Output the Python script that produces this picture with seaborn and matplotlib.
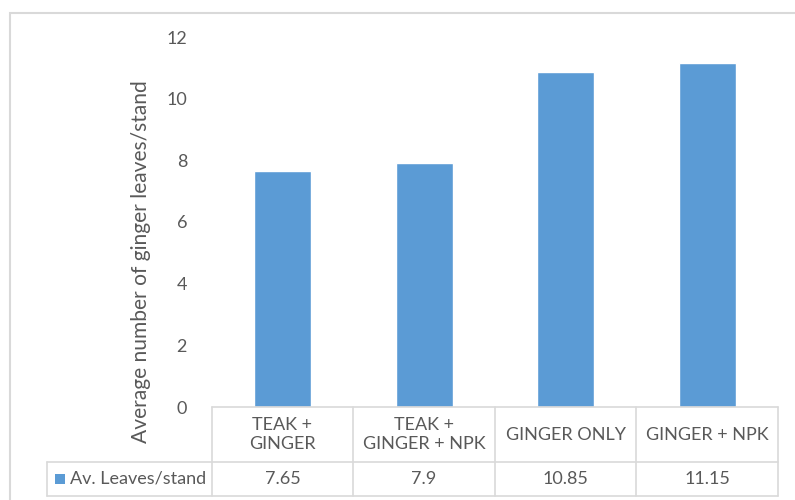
import matplotlib
matplotlib.use("Agg")
import matplotlib.pyplot as plt
from matplotlib.patches import Rectangle
from matplotlib.lines import Line2D
import seaborn as sns
import pandas as pd

categories = ["TEAK +\nGINGER", "TEAK +\nGINGER + NPK", "GINGER ONLY", "GINGER + NPK"]
leaves = [7.65, 7.9, 10.85, 11.15]
value_labels = ["7.65", "7.9", "10.85", "11.15"]
series_name = "Av. Leaves/stand"
y_ticks = [0, 2, 4, 6, 8, 10, 12]

sns.set_theme(style="white")
plt.rcParams["font.family"] = ["Lato", "DejaVu Sans"]

W, H = 795, 500
fig = plt.figure(figsize=(W / 100, H / 100), dpi=100)

def fx(px):
    return px / W

def fy(py):
    return 1 - py / H

# chart frame
fig.add_artist(Rectangle((fx(10), fy(520)), fx(800) - fx(10), fy(13) - fy(520),
                         transform=fig.transFigure, fill=False,
                         edgecolor="#d9d9d9", linewidth=1.5))

left, right, top, base = 212, 778, 37, 407
ax = fig.add_axes([fx(left), fy(base), fx(right) - fx(left), fy(top) - fy(base)])

df = pd.DataFrame({"cat": categories, "val": leaves})
sns.barplot(data=df, x="cat", y="val", color="#5b9bd5", saturation=1,
            width=0.4, ax=ax)

ax.set_ylim(0, 12)
ax.set_xlim(-0.5, 3.5)
ax.set_yticks(y_ticks)
ax.set_yticklabels([str(t) for t in y_ticks], color="#595959", fontsize=13)
ax.tick_params(axis="y", length=0, pad=18)
ax.set_xticks([])
ax.set_xlabel("")
ax.set_ylabel("Average number of ginger leaves/stand", color="#595959",
              fontsize=15.1)
ax.yaxis.set_label_coords((151 - left) / (right - left),
                          (base - 261.5) / (base - top))
for s in ax.spines.values():
    s.set_visible(False)

# data table under the axis
grid = "#d9d9d9"
col_edges = [212, 353, 495, 636, 778]
row1_top, row_mid, row_bot = 407, 462, 496
legend_left = 47

def hline(y, x0, x1):
    fig.add_artist(Line2D([fx(x0), fx(x1)], [fy(y), fy(y)], color=grid, lw=1.2,
                          transform=fig.transFigure))

def vline(x, y0, y1):
    fig.add_artist(Line2D([fx(x), fx(x)], [fy(y0), fy(y1)], color=grid, lw=1.2,
                          transform=fig.transFigure))

hline(row1_top, col_edges[0], col_edges[-1])
hline(row_mid, legend_left, col_edges[-1])
hline(row_bot, legend_left, col_edges[-1])
for x in col_edges:
    vline(x, row1_top, row_bot)
vline(legend_left, row_mid, row_bot)

for i, (cat, lab) in enumerate(zip(categories, value_labels)):
    cx = (col_edges[i] + col_edges[i + 1]) / 2
    fig.text(fx(cx), fy((row1_top + row_mid) / 2), cat, ha="center", va="center",
             color="#595959", fontsize=13, linespacing=1.2)
    fig.text(fx(cx), fy((row_mid + row_bot) / 2), lab, ha="center", va="center",
             color="#595959", fontsize=13)

# legend key in the table
fig.add_artist(Rectangle((fx(55), fy(484)), fx(65) - fx(55), fy(474) - fy(484),
                         transform=fig.transFigure, facecolor="#5b9bd5",
                         edgecolor="none"))
fig.text(fx(70), fy((row_mid + row_bot) / 2), series_name, ha="left", va="center",
         color="#595959", fontsize=13)

fig.savefig("out.png", dpi=100, facecolor="white")
